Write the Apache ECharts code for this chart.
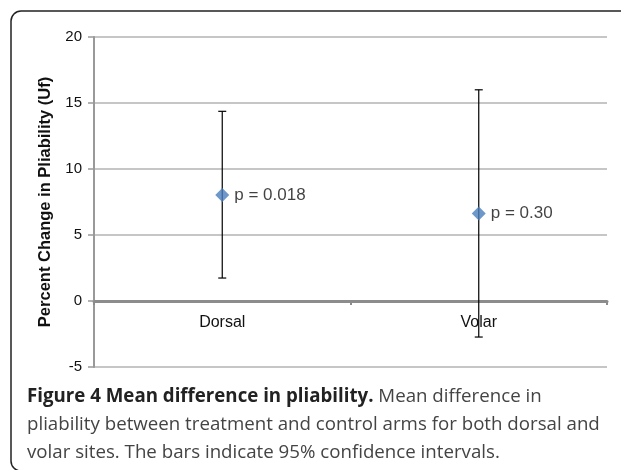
<!DOCTYPE html>
<html>
<head>
<meta charset="utf-8">
<script src="https://cdn.jsdelivr.net/npm/echarts@6/dist/echarts.min.js"></script>
<style>
html,body{margin:0;padding:0;background:#fff;}
#chart{width:621px;height:470px;}
</style>
</head>
<body>
<div id="chart"></div>
<script>
var categories = ['Dorsal', 'Volar'];
var meanValues = [8.03, 6.62];
var lowerCI = [1.74, -2.73];
var upperCI = [14.37, 16.0];
var pLabels = ['p = 0.018', 'p = 0.30'];
var yTicks = { min: -5, max: 20, interval: 5 };
var yAxisTitle = 'Percent Change in Pliability (Uf)';
var captionBold = 'Figure 4 Mean difference in pliability.';
var captionLines = [
  ' Mean difference in',
  'pliability between treatment and control arms for both dorsal and',
  'volar sites. The bars indicate 95% confidence intervals.'
];

var chart = echarts.init(document.getElementById('chart'), null, { renderer: 'canvas' });

var errData = categories.map(function (c, i) { return [i, lowerCI[i], upperCI[i]]; });
var ptData = categories.map(function (c, i) { return [i, meanValues[i]]; });

var gridTop = 37, gridBottom = 103, chartH = 470;
var plotH = chartH - gridTop - gridBottom;
// pixel distance from plot bottom (min) up to zero
var zeroOffset = plotH * (0 - yTicks.min) / (yTicks.max - yTicks.min);

var capFont = '18.7px "Open Sans"';
var option = {
  animation: false,
  backgroundColor: '#fff',
  grid: { left: 94, right: 14, top: gridTop, bottom: gridBottom, containLabel: false },
  xAxis: {
    type: 'category',
    data: categories,
    offset: -zeroOffset,
    axisLine: { show: true, onZero: false, lineStyle: { color: '#8c8c8c', width: 3 } },
    axisTick: { show: true, alignWithLabel: false, length: 4, lineStyle: { color: '#8c8c8c', width: 2 } },
    axisLabel: { color: '#111', fontSize: 16, fontFamily: 'Liberation Sans', margin: 14 },
    splitLine: { show: false }
  },
  yAxis: {
    type: 'value',
    min: yTicks.min, max: yTicks.max, interval: yTicks.interval,
    name: yAxisTitle,
    nameLocation: 'middle',
    nameGap: 40,
    nameTextStyle: { fontFamily: 'Liberation Sans', fontWeight: 'bold', fontSize: 16.5, color: '#111' },
    axisLine: { show: true, lineStyle: { color: '#999', width: 2 } },
    axisTick: { show: true, length: 6, lineStyle: { color: '#999', width: 1.5 } },
    axisLabel: { color: '#111', fontSize: 15, fontFamily: 'Liberation Sans', margin: 12 },
    splitLine: { show: true, lineStyle: { color: '#b3b3b3', width: 1.5 } }
  },
  series: [
    {
      type: 'custom',
      z: 3,
      data: errData,
      renderItem: function (params, api) {
        var x = api.value(0);
        var lo = api.coord([x, api.value(1)]);
        var hi = api.coord([x, api.value(2)]);
        var cap = 4;
        var st = { stroke: '#000', lineWidth: 1.2 };
        return {
          type: 'group',
          children: [
            { type: 'line', shape: { x1: lo[0], y1: lo[1], x2: hi[0], y2: hi[1] }, style: st },
            { type: 'line', shape: { x1: lo[0] - cap, y1: lo[1], x2: lo[0] + cap, y2: lo[1] }, style: st },
            { type: 'line', shape: { x1: hi[0] - cap, y1: hi[1], x2: hi[0] + cap, y2: hi[1] }, style: st }
          ]
        };
      }
    },
    {
      type: 'scatter',
      z: 4,
      data: ptData,
      symbol: 'diamond',
      symbolSize: 14,
      itemStyle: { color: '#4a7ebb' },
      label: {
        show: true,
        position: 'right',
        distance: 5,
        fontSize: 17,
        fontFamily: 'Liberation Sans',
        color: '#111',
        formatter: function (p) { return pLabels[p.dataIndex]; }
      }
    }
  ],
  graphic: [
    {
      type: 'rect',
      shape: { x: 11, y: 11, width: 640, height: 460, r: 10 },
      style: { fill: null, stroke: '#222', lineWidth: 1.5 },
      silent: true
    },
    {
      type: 'text',
      left: 27, top: 387,
      style: {
        rich: {
          b: { font: 'bold ' + capFont, fill: '#222' },
          n: { font: capFont, fill: '#444' }
        },
        text: '{b|' + captionBold + '}{n|' + captionLines[0] + '}'
      }
    },
    {
      type: 'text',
      left: 27, top: 415,
      style: { text: captionLines[1], font: capFont, fill: '#444' }
    },
    {
      type: 'text',
      left: 27, top: 443,
      style: { text: captionLines[2], font: capFont, fill: '#444' }
    }
  ]
};
chart.setOption(option);
</script>
</body>
</html>
